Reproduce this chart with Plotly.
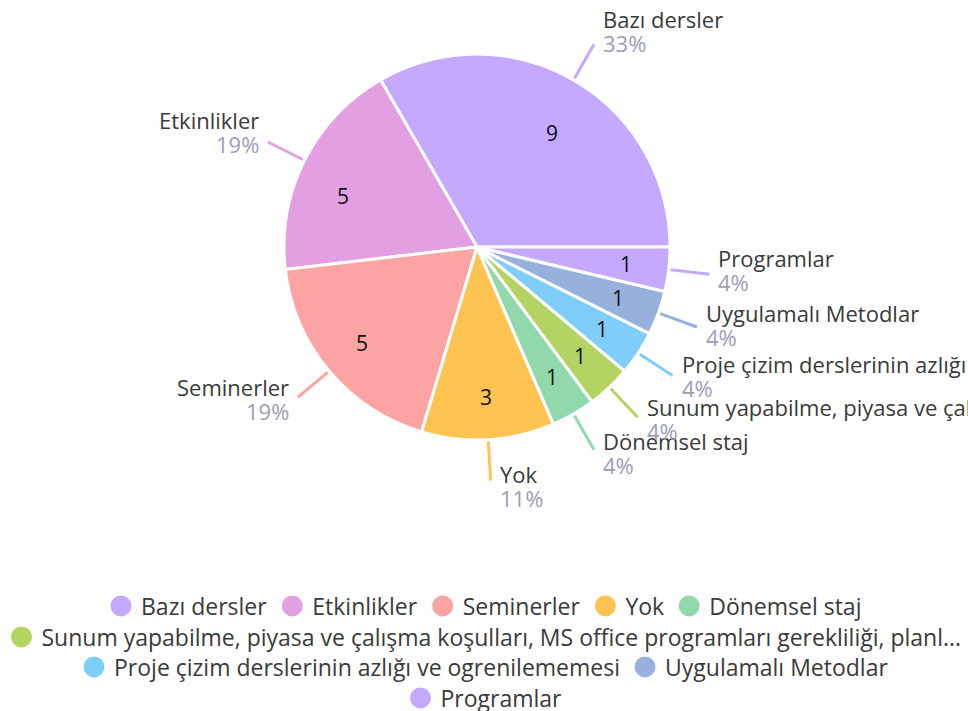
import math
import plotly.graph_objects as go

labels = ["Bazı dersler", "Etkinlikler", "Seminerler", "Yok", "Dönemsel staj",
          "Sunum yapabilme, piyasa ve çalışma koşulları, MS office programları gerekliliği, planl...",
          "Proje çizim derslerinin azlığı ve ogrenilememesi", "Uygulamalı Metodlar", "Programlar"]
values = [9, 5, 5, 3, 1, 1, 1, 1, 1]
colors = ["#c5a8ff", "#e2a0e3", "#fca3a3", "#ffc352", "#92d8ad",
          "#b3d463", "#7fcefa", "#97b0dc", "#c5a8ff"]
legend_rows = [[0, 1, 2, 3, 4], [5], [6, 7], [8]]

W, H = 968, 711
CX, CY, R = 477, 247, 193
FONT = "Open Sans"
NAME_COLOR = "#3a3a3a"
PCT_COLOR = "#9d9db8"

def px(x):
    return x / W

def py(y):
    return 1 - y / H

total = sum(values)
# plotly (counterclockwise) places the first slice clockwise of `rotation`;
# shift so that the first slice starts at 3 o'clock and runs counterclockwise.
rotation = 90 - 360 * values[0] / total

fig = go.Figure()
fig.add_trace(go.Pie(
    labels=labels, values=values, sort=False, direction="counterclockwise", rotation=rotation,
    marker=dict(colors=colors, line=dict(color="white", width=3)),
    textinfo="none", hoverinfo="label+value+percent", showlegend=False,
    domain=dict(x=[px(CX - R), px(CX + R)], y=[py(CY + R), py(CY - R)]),
))

annotations = []
shapes = []
cum = 0
for i, (lab, v, c) in enumerate(zip(labels, values, colors)):
    mid = (cum + v / 2) / total * 2 * math.pi
    cum += v
    ca, sa = math.cos(mid), math.sin(mid)
    # inside value
    annotations.append(dict(x=px(CX + 150 * ca), y=py(CY - 150 * sa), xref="paper", yref="paper",
                            text=str(v), showarrow=False, font=dict(family=FONT, size=21, color="#111111")))
    # leader line
    x0, y0 = CX + (R + 2) * ca, CY - (R + 2) * sa
    x1, y1 = CX + 234 * ca, CY - 234 * sa
    shapes.append(dict(type="line", xref="paper", yref="paper", x0=px(x0), y0=py(y0), x1=px(x1), y1=py(y1),
                       line=dict(color=c, width=3)))
    right = ca >= 0
    tx = x1 + (7 if right else -7)
    bc = y1 - (5 + 10 * sa)
    anchor = "left" if right else "right"
    pct = round(v / total * 100)
    annotations.append(dict(x=px(tx), y=py(bc - 12), xref="paper", yref="paper", text=lab, showarrow=False,
                            xanchor=anchor, yanchor="middle", font=dict(family=FONT, size=22, color=NAME_COLOR)))
    annotations.append(dict(x=px(tx), y=py(bc + 12), xref="paper", yref="paper", text=f"{pct}%", showarrow=False,
                            xanchor=anchor, yanchor="middle", font=dict(family=FONT, size=22, color=PCT_COLOR)))

legend_ys = [606, 637, 667, 698]
layout_legends = {}
for r, (row, ly) in enumerate(zip(legend_rows, legend_ys)):
    key = "legend" if r == 0 else f"legend{r + 1}"
    for i in row:
        fig.add_trace(go.Scatter(x=[None], y=[None], mode="markers", name=labels[i], legend=key,
                                 marker=dict(symbol="circle", size=16, color=colors[i],
                                             line=dict(color=colors[i], width=5)),
                                 showlegend=True, hoverinfo="skip"))
    layout_legends[key] = dict(orientation="h", x=0.5, xanchor="center", y=py(ly), yanchor="middle",
                               font=dict(family=FONT, size=23, color=NAME_COLOR), bgcolor="rgba(0,0,0,0)",
                               itemclick=False, itemdoubleclick=False, tracegroupgap=0)

fig.update_layout(
    width=W, height=H, margin=dict(l=0, r=0, t=0, b=0, autoexpand=False),
    paper_bgcolor="white", plot_bgcolor="white",
    xaxis=dict(visible=False), yaxis=dict(visible=False),
    annotations=annotations, shapes=shapes,
    font=dict(family=FONT),
    **layout_legends,
)
fig.write_html("out.html", config={"displayModeBar": False},
               post_script="document.body.style.margin='0';document.body.style.overflow='hidden';")
